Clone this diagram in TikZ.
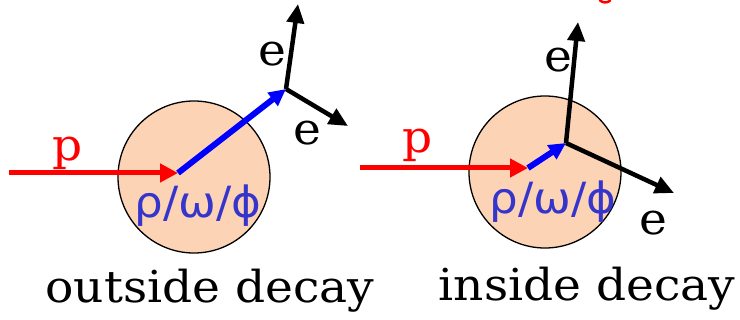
\documentclass[tikz,border=0pt]{standalone}
\usepackage{fontspec}
\setmainfont[FakeStretch=1.07]{DejaVu Serif}
\newfontfamily\greekfont[FakeStretch=1.05]{DejaVu Sans}
\usetikzlibrary{arrows.meta}
\definecolor{peach}{HTML}{FDD3B5}
\definecolor{greekblue}{HTML}{3535CC}
\begin{document}
\begin{tikzpicture}[x=1pt,y=-1pt,
  lbl/.style={font=\fontsize{44}{48}\selectfont, anchor=base, inner sep=0pt},
  glbl/.style={font=\greekfont\fontsize{43}{46}\selectfont, anchor=base, inner sep=0pt, text=greekblue},
  ball/.style={circle, draw=black, line width=1.3pt, fill=peach, minimum size=152pt, inner sep=0pt},
  parrow/.style={draw=red, line width=5pt, -{Triangle[length=18pt,width=18pt]}},
  varrow/.style={draw=blue, line width=6pt, -{Triangle[length=17pt,width=16pt]}},
  earrow/.style={draw=black, line width=4.5pt, -{Triangle[length=19pt,width=17pt]}}]
\useasboundingbox (0,0) rectangle (740,320);

% ---------- outside decay ----------
\node[ball] (ball1) at (194,177) {};
\coordinate (pin1) at (9,173);
\coordinate (v1) at (178,173);
\coordinate (d1) at (286,89);
\coordinate (eup1) at (298,4);
\coordinate (edn1) at (348,126);
\draw[parrow] (pin1) -- (v1);
\draw[varrow] (v1) -- (d1);
\draw[earrow] (d1) -- (eup1);
\draw[earrow] (d1) -- (edn1);
\node[lbl, text=red] (plab1) at (68,161) {p};
\node[lbl] (elab1a) at (272,66) {e};
\node[lbl] (elab1b) at (307,145) {e};
\node[glbl] (glab1) at (198,218) {ρ/ω/ϕ};
\node[lbl] (cap1) at (210,303) {outside decay};

% ---------- inside decay ----------
\node[ball] (ball2) at (545,172) {};
\coordinate (pin2) at (360,168);
\coordinate (v2) at (528,168);
\coordinate (d2) at (566,143);
\coordinate (eup2) at (578,22);
\coordinate (edn2) at (674,193);
\draw[parrow] (pin2) -- (v2);
\draw[varrow] (v2) -- (d2);
\draw[earrow] (d2) -- (eup2);
\draw[earrow] (d2) -- (edn2);
\node[lbl, text=red] (plab2) at (418,153) {p};
\node[lbl] (elab2a) at (558,72) {e};
\node[lbl] (elab2b) at (653,235) {e};
\node[glbl] (glab2) at (553,214) {ρ/ω/ϕ};
\node[lbl] (cap2) at (587,301) {inside decay};

% small cut-off red mark at the top edge
\draw[red, line width=2.5pt, line cap=round] (600,0.5) .. controls (603,3) and (607,3) .. (610,0.8);
\end{tikzpicture}
\end{document}
